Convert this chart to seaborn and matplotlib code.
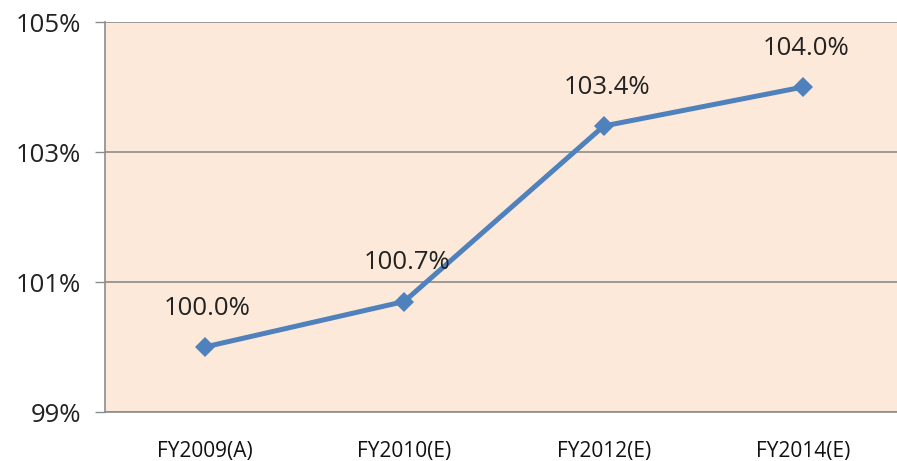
import matplotlib
matplotlib.use("Agg")
import matplotlib.pyplot as plt
import seaborn as sns
import pandas as pd
from matplotlib.ticker import FixedLocator

# data
years = ["FY2009(A)", "FY2010(E)", "FY2012(E)", "FY2014(E)"]
values = [100.0, 100.7, 103.4, 104.0]
labels = ["100.0%", "100.7%", "103.4%", "104.0%"]
y_ticks = [99, 101, 103, 105]

sns.set_style("white")
plt.rcParams["font.family"] = ["Open Sans", "DejaVu Sans"]

df = pd.DataFrame({"year": years, "value": values})

fig = plt.figure(figsize=(8.97, 4.61), dpi=100)
ax = fig.add_axes([105 / 897, 1 - 412 / 461, 798 / 897, 390 / 461])
ax.set_facecolor("#FDE9D9")

sns.lineplot(data=df, x="year", y="value", ax=ax, color="#4F81BD",
             linewidth=3.6, marker="D", markersize=10, markeredgewidth=0,
             sort=False)

for i, (v, lab) in enumerate(zip(values, labels)):
    ax.annotate(lab, (i, v), xytext=(2, 28), textcoords="offset points",
                ha="center", va="center", fontsize=18.5, color="#222222")

ax.set_xlim(-0.5, 3.5)
ax.set_ylim(99, 105)
ax.set_yticks(y_ticks)
ax.set_yticklabels([f"{t}%" for t in y_ticks])
ax.yaxis.grid(True, color="#8C8C8C", linewidth=1.2)
ax.set_axisbelow(True)

ax.xaxis.set_minor_locator(FixedLocator([-0.5, 0.5, 1.5, 2.5, 3.5]))
ax.tick_params(axis="x", which="major", length=0, pad=21, labelsize=15,
               labelcolor="#111111")
ax.tick_params(axis="x", which="minor", length=6, width=1, color="#8C8C8C",
               direction="out")
ax.tick_params(axis="y", length=7, width=1, color="#8C8C8C", pad=10,
               labelsize=18.5, labelcolor="#222222", direction="out", left=True)

for s in ["top", "right"]:
    ax.spines[s].set_visible(False)
for s in ["left", "bottom"]:
    ax.spines[s].set_color("#8C8C8C")
    ax.spines[s].set_linewidth(1.2)

ax.set_xlabel("")
ax.set_ylabel("")

fig.savefig("out.png", dpi=100)
